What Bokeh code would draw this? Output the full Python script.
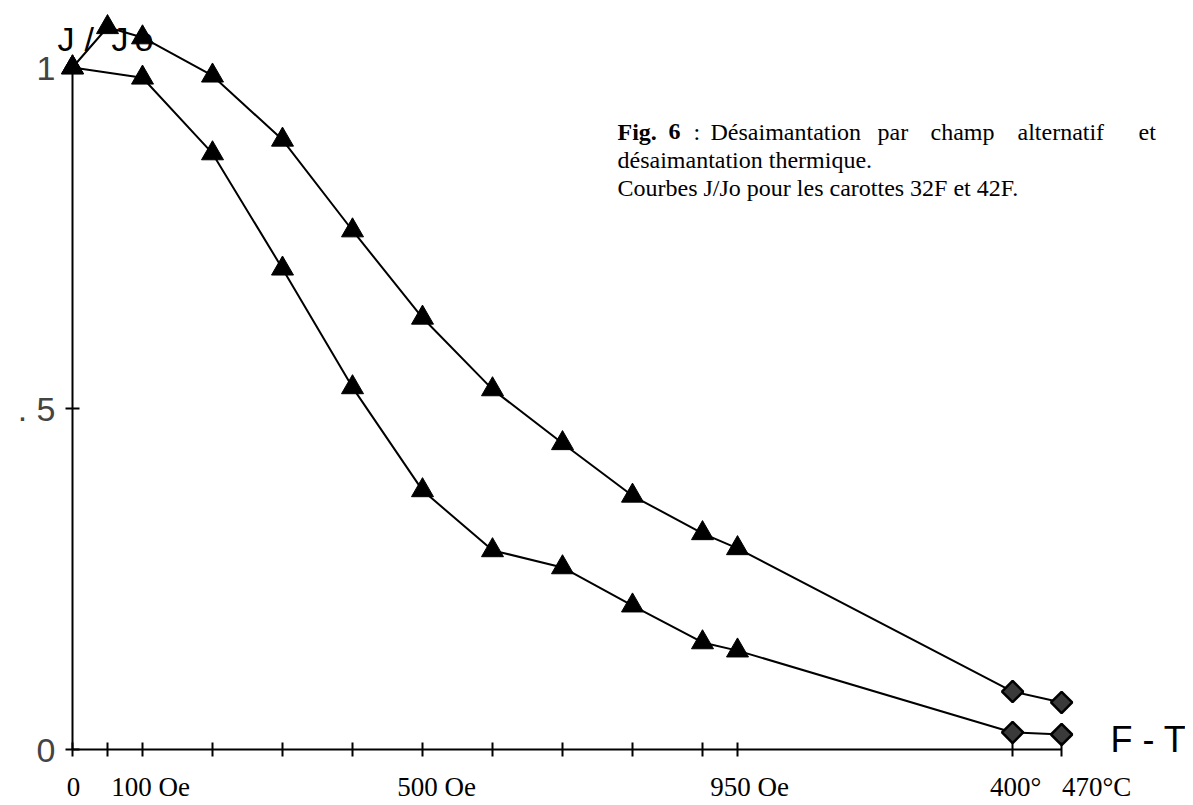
from bokeh.plotting import figure
from bokeh.models import LinearAxis, FixedTicker, Range1d, ColumnDataSource
from bokeh.core.properties import value
from bokeh.embed import file_html
from bokeh.resources import INLINE

# ---------------- data ----------------
# AF demagnetisation steps (Oe) and thermal steps (deg C)
upper_fields = [0, 50, 100, 200, 300, 400, 500, 600, 700, 800, 900, 950]
upper_af = [1.0, 1.059, 1.044, 0.988, 0.894, 0.761, 0.633, 0.528, 0.449, 0.372, 0.317, 0.295]
lower_fields = [0, 100, 200, 300, 400, 500, 600, 700, 800, 900, 950]
lower_af = [1.0, 0.985, 0.874, 0.705, 0.531, 0.380, 0.292, 0.267, 0.211, 0.157, 0.145]
temps = [400, 470]
upper_th = [0.085, 0.069]
lower_th = [0.025, 0.022]

x_ticks_oe = [0, 50, 100, 200, 300, 400, 500, 600, 700, 800, 900, 950]
x_label_values = ["0", "100 Oe", "500 Oe", "950 Oe", "400°", "470°C"]
y_ticks = [0, 0.5, 1]
y_tick_labels = ["0", ". 5", "1"]

# thermal steps are drawn after the AF steps on the same axis
THERMAL_OFFSET = 943


def tpos(t):
    return t + THERMAL_OFFSET


# ---------------- figure geometry ----------------
W, H = 1185, 800
X0_PX, Y0_PX = 72, 749      # position of the origin inside the figure
SX, SY = 0.7, 682.0         # px per Oe, px per unit J/Jo


def xd(px):  # figure px -> data x
    return (px - X0_PX) / SX


def yd(py):  # figure px -> data y
    return (Y0_PX - py) / SY


p = figure(width=W, height=H, output_backend="svg", toolbar_location=None,
           x_axis_location=None, y_axis_location=None,
           x_range=Range1d(-X0_PX / SX, (W - X0_PX) / SX),
           y_range=Range1d(-(H - Y0_PX) / SY, Y0_PX / SY),
           min_border=0, background_fill_color="white", border_fill_color="white")
p.outline_line_color = None
p.xgrid.visible = False
p.ygrid.visible = False

# ---------------- axes ----------------
x_tick_pos = x_ticks_oe + [tpos(t) for t in temps]
xaxis = LinearAxis(fixed_location=0, ticker=FixedTicker(ticks=x_tick_pos),
                   bounds=(0, tpos(temps[-1])))
xaxis.axis_line_width = 2
xaxis.major_tick_line_width = 2
xaxis.major_tick_in = 7
xaxis.major_tick_out = 7
xaxis.minor_tick_line_color = None
xaxis.major_label_text_color = None
p.add_layout(xaxis, "below")

yaxis = LinearAxis(fixed_location=0, ticker=FixedTicker(ticks=y_ticks), bounds=(0, 1))
yaxis.axis_line_width = 2
yaxis.major_tick_line_width = 2
yaxis.major_tick_in = 7
yaxis.major_tick_out = 7
yaxis.minor_tick_line_color = None
yaxis.major_label_overrides = {t: l for t, l in zip(y_ticks, y_tick_labels)}
yaxis.major_label_text_font = "Liberation Sans"
yaxis.major_label_text_font_size = "34px"
yaxis.major_label_standoff = 10
yaxis.major_label_orientation = "horizontal"
p.add_layout(yaxis, "left")

# ---------------- curves ----------------
up = ColumnDataSource(dict(x=upper_fields + [tpos(t) for t in temps], y=upper_af + upper_th))
lo = ColumnDataSource(dict(x=lower_fields + [tpos(t) for t in temps], y=lower_af + lower_th))
for src in (up, lo):
    p.line("x", "y", source=src, line_color="black", line_width=2)

up_af = ColumnDataSource(dict(x=upper_fields, y=upper_af))
lo_af = ColumnDataSource(dict(x=lower_fields, y=lower_af))
up_th = ColumnDataSource(dict(x=[tpos(t) for t in temps], y=upper_th))
lo_th = ColumnDataSource(dict(x=[tpos(t) for t in temps], y=lower_th))
for src in (up_af, lo_af):
    p.scatter("x", "y", source=src, marker="triangle", size=22,
              fill_color="black", line_color="black", line_width=1)
for src in (up_th, lo_th):
    p.scatter("x", "y", source=src, marker="square", size=15, angle=0.7854,
              fill_color="#3a3a3a", line_color="black", line_width=2.5)

# ---------------- x tick labels ----------------
label_ticks = [0, 100, 500, 950, tpos(temps[0]), tpos(temps[1])]
label_shift = [1, 8, 14, 12, 3, 35]
p.text(x=label_ticks, y=[yd(786)] * len(label_ticks), text=x_label_values,
       x_offset=label_shift, text_align="center", text_baseline="middle",
       text_font=value("Liberation Serif"), text_font_size="27px", text_color="black")

# ---------------- axis titles ----------------
jj_chars = ["J", "/", "J", "o"]
jj_px = [57, 84, 111, 134]
p.text(x=[xd(v) for v in jj_px], y=[yd(38)] * 4, text=jj_chars,
       text_align="left", text_baseline="alphabetic",
       text_font=value("Liberation Sans"), text_font_size="34px", text_color="black")
p.text(x=[xd(1110)], y=[yd(739)], text=["F - T"], text_align="left", text_baseline="middle",
       text_font=value("Liberation Sans"), text_font_size="36px", text_color="black")

# ---------------- caption ----------------
serif = value("Liberation Serif")
bold_words = ["Fig.", "6"]
bold_px = [617, 668]
p.text(x=[xd(v) for v in bold_px], y=[yd(131)] * 2, text=bold_words,
       text_align="left", text_baseline="middle", text_font=serif,
       text_font_style="bold", text_font_size="24px", text_color="black")
line1_words = [":", "Désaimantation", "par", "champ", "alternatif", "et"]
line1_px = [693, 710, 877, 930, 1017, 1138]
p.text(x=[xd(v) for v in line1_px], y=[yd(131)] * len(line1_words), text=line1_words,
       text_align="left", text_baseline="middle", text_font=serif,
       text_font_size="24px", text_color="black")
p.text(x=[xd(617), xd(617)], y=[yd(159), yd(187)],
       text=["désaimantation thermique.", "Courbes J/Jo pour les carottes 32F et 42F."],
       text_align="left", text_baseline="middle", text_font=serif,
       text_font_size="24px", text_color="black")

open("out.html", "w").write(file_html(p, INLINE))
